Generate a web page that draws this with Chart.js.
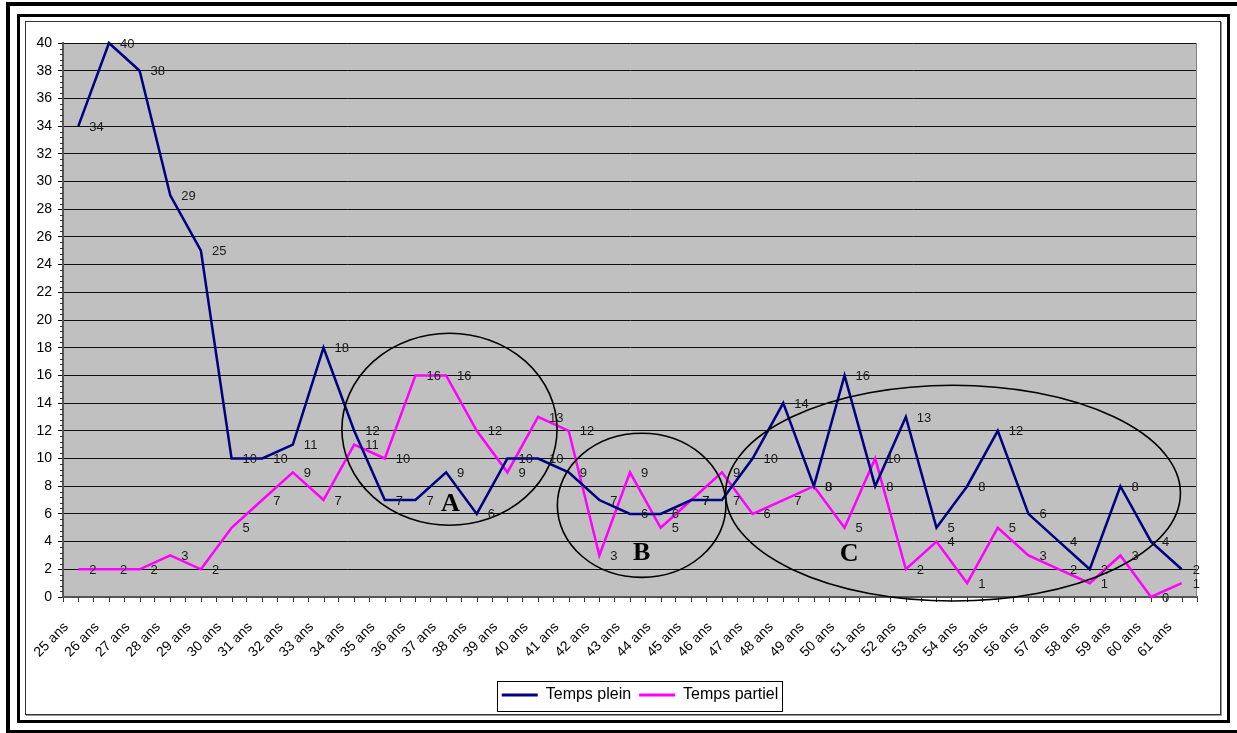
<!DOCTYPE html>
<html><head><meta charset="utf-8">
<script src="https://cdn.jsdelivr.net/npm/chart.js@4/dist/chart.umd.min.js"></script>
<style>
html,body{margin:0;padding:0;background:#fff;overflow:hidden;}
#wrap{position:relative;width:1237px;height:733px;overflow:hidden;}
canvas{position:absolute;left:0;top:0;}
.f{position:absolute;box-sizing:border-box;pointer-events:none;}
#f1{left:6px;top:2px;width:1240px;height:731px;border-style:solid;border-color:#000;border-width:4px 4px 3px 4px;}
#f2{left:17px;top:14px;width:1213px;height:709px;border:3px solid #000;}
#f3{left:25px;top:21px;width:1196px;height:694px;border:1px solid #333;box-shadow:1px 1px 0 #999;}
</style></head>
<body>
<div id="wrap">
<canvas id="c" width="1237" height="733"></canvas>
<div class="f" id="f1"></div><div class="f" id="f2"></div><div class="f" id="f3"></div>
</div>
<script>
const categories = ['25 ans','26 ans','27 ans','28 ans','29 ans','30 ans','31 ans','32 ans','33 ans','34 ans','35 ans','36 ans','37 ans','38 ans','39 ans','40 ans','41 ans','42 ans','43 ans','44 ans','45 ans','46 ans','47 ans','48 ans','49 ans','50 ans','51 ans','52 ans','53 ans','54 ans','55 ans','56 ans','57 ans','58 ans','59 ans','60 ans','61 ans'];
const tempsPlein   = [34,40,38,29,25,10,10,11,18,12,7,7,9,6,10,10,9,7,6,6,7,7,10,14,8,16,8,13,5,8,12,6,4,2,8,4,2];
const tempsPartiel = [2,2,2,3,2,5,7,9,7,11,10,16,16,12,9,13,12,3,9,5,7,9,6,7,8,5,10,2,4,1,5,3,2,1,3,0,1];
const seriesNames = ['Temps plein','Temps partiel'];
const yMin = 0, yMax = 40, yStep = 2, yMinorStep = 0.4;

// Annotation zones (in data units: category index / value)
const zoneLabels = ['A','B','C'];
const zoneCx = [12.11, 18.38, 28.54];
const zoneCy = [12.11, 6.62, 7.5];
const zoneRx = [3.51, 2.75, 7.42];
const zoneRy = [6.93, 5.2, 7.79];
const letterX = [12.14, 18.38, 25.15];
const letterY = [6.7, 3.18, 3.1];

const FONT = "'Liberation Sans', Arial, sans-serif";
const PLOT_BOTTOM = 597;
let xAxisHeight = 80;

const decor = {
  id: 'decor',
  afterLayout(chart) {
    const lg = chart.legend;
    if (lg) { lg.left += 10; lg.right += 10; }
  },
  beforeDraw(chart) {
    const {ctx, chartArea: a} = chart;
    ctx.save();
    ctx.fillStyle = '#C0C0C0';
    ctx.fillRect(a.left, a.top, a.right - a.left, a.bottom - a.top);
    ctx.restore();
  },
  beforeDatasetsDraw(chart) {
    const {ctx, chartArea: a, scales: {x, y}} = chart;
    ctx.save();
    ctx.strokeStyle = '#808080'; ctx.lineWidth = 1;
    ctx.beginPath();
    ctx.moveTo(Math.round(a.right) - 0.5, a.top); ctx.lineTo(Math.round(a.right) - 0.5, a.bottom);
    ctx.stroke();
    ctx.strokeStyle = '#333';
    ctx.beginPath();
    categories.forEach((c, i) => {
      const px = Math.round(x.getPixelForValue(i)) + 0.5;
      ctx.moveTo(px, a.bottom); ctx.lineTo(px, a.bottom + 5);
    });
    const n = Math.round((yMax - yMin) / yMinorStep);
    const per = Math.round(yStep / yMinorStep);
    for (let k = 0; k <= n; k++) {
      if (k % per === 0) continue;
      const py = Math.round(y.getPixelForValue(yMin + k * yMinorStep)) + 0.5;
      ctx.moveTo(a.left - 3, py); ctx.lineTo(a.left, py);
    }
    ctx.stroke();
    ctx.restore();
  },
  afterDatasetsDraw(chart) {
    const {ctx, scales: {x, y}} = chart;
    ctx.save();
    const ux = x.getPixelForValue(1) - x.getPixelForValue(0);
    const uy = y.getPixelForValue(0) - y.getPixelForValue(1);
    ctx.strokeStyle = '#000'; ctx.lineWidth = 1.6;
    zoneLabels.forEach((l, i) => {
      ctx.beginPath();
      ctx.ellipse(x.getPixelForValue(0) + zoneCx[i] * ux, y.getPixelForValue(zoneCy[i]), zoneRx[i] * ux, zoneRy[i] * uy, 0, 0, Math.PI * 2);
      ctx.stroke();
    });
    ctx.fillStyle = '#000';
    ctx.font = "bold 26px 'Liberation Serif', 'Times New Roman', serif";
    ctx.textAlign = 'center'; ctx.textBaseline = 'middle';
    zoneLabels.forEach((l, i) => {
      ctx.fillText(l, x.getPixelForValue(0) + letterX[i] * ux, y.getPixelForValue(letterY[i]));
    });
    // data labels
    ctx.font = "13px " + FONT;
    ctx.fillStyle = '#1a1a1a';
    ctx.textAlign = 'left'; ctx.textBaseline = 'middle';
    chart.data.datasets.forEach((ds, i) => {
      const meta = chart.getDatasetMeta(i);
      meta.data.forEach((pt, j) => {
        ctx.fillText(String(ds.data[j]), pt.x + 11, pt.y + 1);
      });
    });
    ctx.restore();
  },
  afterDraw(chart) {
    const lg = chart.legend;
    if (!lg || !lg.legendHitBoxes || !lg.legendHitBoxes.length) return;
    const hb = lg.legendHitBoxes;
    const l = Math.min(...hb.map(h => h.left)) - 5;
    const r = Math.max(...hb.map(h => h.left + h.width)) + 3;
    const t = Math.min(...hb.map(h => h.top)) - 6;
    const b = Math.max(...hb.map(h => h.top + h.height)) + 8;
    const ctx = chart.ctx;
    ctx.save();
    ctx.strokeStyle = '#000'; ctx.lineWidth = 1;
    ctx.strokeRect(Math.round(l) + 0.5, Math.round(t) + 0.5, Math.round(r - l), Math.round(b - t));
    ctx.restore();
  }
};

const chart = new Chart(document.getElementById('c'), {
  type: 'line',
  data: {
    labels: categories,
    datasets: [
      {label: seriesNames[0], data: tempsPlein, borderColor: '#000080', backgroundColor: '#000080', borderWidth: 2.5, pointRadius: 0, tension: 0, clip: false},
      {label: seriesNames[1], data: tempsPartiel, borderColor: '#FF00FF', backgroundColor: '#FF00FF', borderWidth: 2.5, pointRadius: 0, tension: 0, clip: false}
    ]
  },
  options: {
    responsive: false,
    animation: false,
    events: [],
    layout: {padding: {left: 28, top: 43, right: 40, bottom: 20}},
    scales: {
      x: {
        type: 'category',
        offset: true,
        afterFit(s) { s.height = xAxisHeight; },
        grid: {display: true, drawOnChartArea: false, drawTicks: true, tickLength: 5, color: '#333', offset: true},
        border: {display: true, color: '#555', width: 2},
        ticks: {autoSkip: false, minRotation: 45, maxRotation: 45, padding: 17, labelOffset: -12, color: '#000', font: {family: FONT, size: 14}}
      },
      y: {
        min: yMin, max: yMax,
        afterFit(s) { s.width = 35; },
        grid: {color: '#111', tickLength: 5, tickColor: '#000'},
        border: {display: true, color: '#555', width: 2},
        ticks: {stepSize: yStep, padding: 6, color: '#000', font: {family: FONT, size: 14}}
      }
    },
    plugins: {
      tooltip: {enabled: false},
      legend: {
        position: 'bottom',
        fullSize: false,
        labels: {
          boxWidth: 36, boxHeight: 3, padding: 8, color: '#000',
          font: {family: FONT, size: 16},
          generateLabels(chart) {
            return chart.data.datasets.map((ds, i) => ({
              text: ds.label, fillStyle: ds.borderColor, strokeStyle: ds.borderColor,
              lineWidth: 0, hidden: false, datasetIndex: i
            }));
          }
        }
      }
    }
  },
  plugins: [decor]
});
const diff = chart.chartArea.bottom - PLOT_BOTTOM;
if (Math.abs(diff) > 0.25) { xAxisHeight += diff; chart.update(); }
</script>
</body></html>
